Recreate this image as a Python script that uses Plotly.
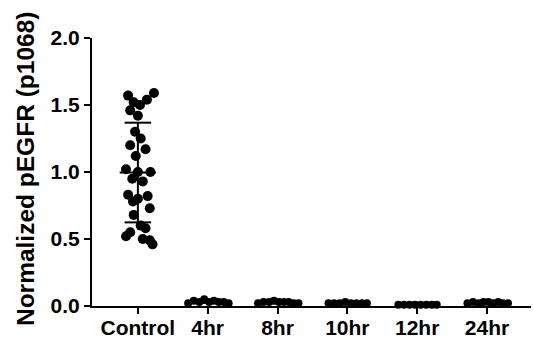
import numpy as np
import plotly.graph_objects as go

categories = ["Control", "4hr", "8hr", "10hr", "12hr", "24hr"]

control_vals = [1.59, 1.57, 1.54, 1.52, 1.50, 1.46, 1.42, 1.30, 1.25, 1.20,
                1.17, 1.12, 1.02, 1.00, 1.00, 0.95, 0.93, 0.83, 0.82, 0.80,
                0.78, 0.73, 0.68, 0.60, 0.58, 0.55, 0.52, 0.50, 0.49, 0.46]
control_jit = [0.23, -0.14, 0.13, -0.06, 0.03, -0.11, 0.0, -0.04, 0.04, -0.11,
               0.11, -0.03, -0.17, 0.0, 0.18, -0.08, 0.07, -0.14, 0.14, 0.0,
               -0.07, 0.17, -0.06, 0.04, 0.11, -0.11, -0.17, 0.07, 0.17, 0.21]

h4_vals = [0.02, 0.04, 0.03, 0.05, 0.03, 0.04, 0.03, 0.03, 0.02]
h4_jit = [-0.28, -0.2, -0.12, -0.05, 0.02, 0.09, 0.16, 0.23, 0.3]
h8_vals = [0.02, 0.03, 0.03, 0.04, 0.03, 0.03, 0.03, 0.02, 0.02]
h8_jit = [-0.28, -0.2, -0.12, -0.05, 0.02, 0.09, 0.16, 0.23, 0.3]
h10_vals = [0.02, 0.02, 0.02, 0.03, 0.02, 0.02, 0.02, 0.02]
h10_jit = [-0.27, -0.19, -0.11, -0.03, 0.05, 0.13, 0.21, 0.28]
h12_vals = [0.01, 0.01, 0.01, 0.01, 0.01, 0.01, 0.01, 0.01]
h12_jit = [-0.27, -0.19, -0.11, -0.03, 0.05, 0.13, 0.21, 0.28]
h24_vals = [0.02, 0.03, 0.02, 0.03, 0.03, 0.02, 0.03, 0.02, 0.02]
h24_jit = [-0.28, -0.2, -0.12, -0.05, 0.02, 0.09, 0.16, 0.23, 0.3]

groups = [(control_vals, control_jit), (h4_vals, h4_jit), (h8_vals, h8_jit),
          (h10_vals, h10_jit), (h12_vals, h12_jit), (h24_vals, h24_jit)]

y_ticks = [0.0, 0.5, 1.0, 1.5, 2.0]
y_labels = ["0.0", "0.5", "1.0", "1.5", "2.0"]
y_title = "Normalized pEGFR (p1068)"

fig = go.Figure()

for i, (vals, jit) in enumerate(groups):
    xs = [i + j for j in jit]
    size = 10 if i == 0 else 8
    fig.add_trace(go.Scatter(x=xs, y=vals, mode="markers",
                             marker=dict(color="black", size=size, symbol="circle"),
                             showlegend=False, cliponaxis=False))
    m = float(np.mean(vals))
    s = float(np.std(vals, ddof=1))
    w = 0.26
    c = 0.19
    ex = [i - w, i + w, None, i, i, None, i - c, i + c, None, i - c, i + c]
    ey = [m, m, None, m - s, m + s, None, m + s, m + s, None, m - s, m - s]
    fig.add_trace(go.Scatter(x=ex, y=ey, mode="lines",
                             line=dict(color="black", width=2),
                             showlegend=False, cliponaxis=False, hoverinfo="skip"))

fig.add_annotation(text="<b>" + y_title + "</b>", textangle=-90,
                   xref="paper", yref="paper", x=-0.1526, y=0.511,
                   xanchor="center", yanchor="middle", showarrow=False,
                   font=dict(size=24.5, color="black"))

fig.update_layout(
    width=533, height=339,
    margin=dict(l=92, r=2, t=38, b=33),
    plot_bgcolor="white", paper_bgcolor="white",
    font=dict(family="Liberation Sans, Arial, sans-serif", color="black"),
    xaxis=dict(range=[-0.657, 5.63], tickvals=list(range(len(categories))),
               ticktext=["<b>" + c + "</b>" for c in categories],
               showgrid=False, zeroline=False, automargin=False,
               showline=True, linecolor="black", linewidth=2,
               ticks="outside", ticklen=6, tickwidth=2, tickcolor="black",
               ticklabelstandoff=-4,
               tickfont=dict(size=21)),
    yaxis=dict(range=[0, 2.0], tickvals=y_ticks,
               ticktext=["<b>" + t + "</b>" for t in y_labels],
               showgrid=False, zeroline=False, automargin=False,
               showline=True, linecolor="black", linewidth=2,
               ticks="outside", ticklen=6, tickwidth=2, tickcolor="black",
               tickfont=dict(size=21)),
)

fig.write_html("out.html")
